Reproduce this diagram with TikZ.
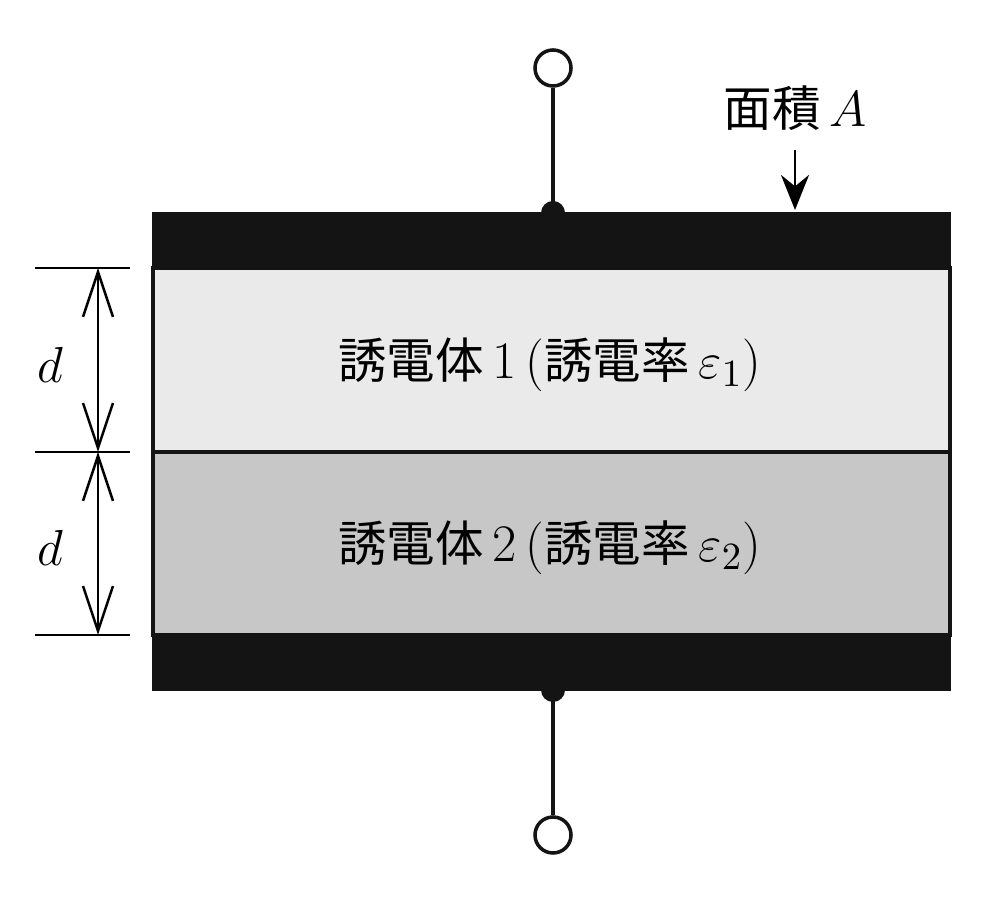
\documentclass[tikz,border=0pt]{standalone}
\usepackage{fontspec}
\newfontfamily\cjk{Noto Sans CJK JP}[Scale=0.92]
\usetikzlibrary{arrows.meta}
\definecolor{plateBlack}{RGB}{20,20,20}
\definecolor{dielLight}{RGB}{234,234,234}
\definecolor{dielDark}{RGB}{200,199,199}
\tikzset{
  plate/.style={fill=plateBlack,draw=plateBlack},
  layer/.style={draw=plateBlack,line width=1pt},
  terminal/.style={circle,draw=plateBlack,line width=1pt,fill=white,minimum size=0.36cm,inner sep=0pt},
  joint/.style={circle,fill=plateBlack,minimum size=0.24cm,inner sep=0pt},
  label/.style={font=\fontsize{15}{18}\selectfont},
  dim/.style={{Straight Barb[length=4.5mm,width=3mm]}-{Straight Barb[length=4.5mm,width=3mm]},line width=0.7pt}
}
\begin{document}
\begin{tikzpicture}[x=0.01cm,y=-0.01cm]
  \useasboundingbox (0,0) rectangle (1000,904);
  % plates and dielectrics
  \fill[plate] (153,213) rectangle (950,268);
  \filldraw[layer,fill=dielLight] (153,268) rectangle (950,452);
  \filldraw[layer,fill=dielDark] (153,452) rectangle (950,635);
  \fill[plate] (153,635) rectangle (950,690);
  % terminals
  \node[joint] (jt) at (553,213) {};
  \node[joint] (jb) at (553,690) {};
  \node[terminal] (tt) at (553,68) {};
  \node[terminal] (tb) at (553,835) {};
  \draw[line width=1.2pt,plateBlack] (tt) -- (jt.center);
  \draw[line width=1.2pt,plateBlack] (tb) -- (jb.center);
  % labels
  \node[label] (l1) at (550,365) {{\cjk 誘電体}\,1\,({\cjk 誘電率}\,$\varepsilon_1$)};
  \node[label] (l2) at (550,548) {{\cjk 誘電体}\,2\,({\cjk 誘電率}\,$\varepsilon_2$)};
  \node[label] (area) at (795,108) {{\cjk 面積}\,$A$};
  \coordinate (areaTip) at (795,210);
  \draw[-{Stealth[length=3.5mm,width=2.8mm]},line width=0.8pt] (795,150) -- (areaTip);
  % dimensions
  \coordinate (e1) at (98,268);
  \coordinate (e2) at (98,452);
  \coordinate (e3) at (98,635);
  \foreach \y in {268,452,635}
    \draw[line width=0.7pt] (35,\y) -- (130,\y);
  \draw[dim] (e1) -- (e2);
  \draw[dim] (e2) -- (e3);
  \node[label] (d1) at (50,365) {$d$};
  \node[label] (d2) at (50,548) {$d$};
\end{tikzpicture}
\end{document}
